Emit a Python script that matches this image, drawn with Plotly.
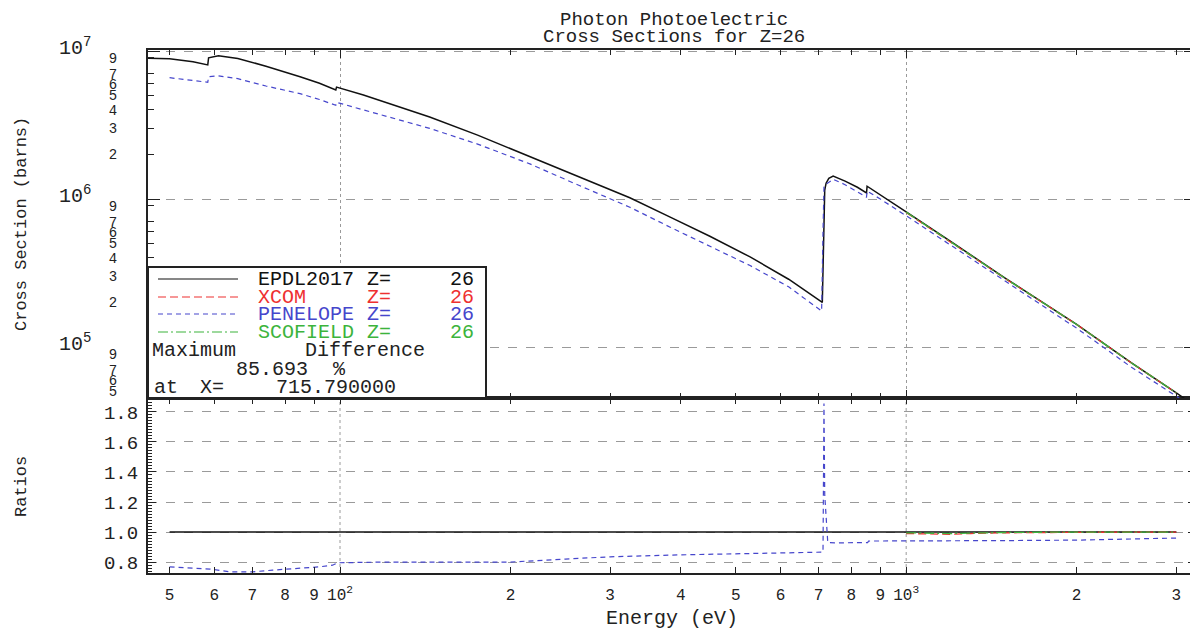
import math
import plotly.graph_objects as go

# ---------------- data ----------------
epdl_e = [45, 50, 55, 58.4, 58.6, 61, 66, 74, 85, 92, 98.3, 98.6, 110, 125, 144, 175, 217,
          260, 325, 383, 450, 530, 620, 711, 713, 715.79, 718, 722, 730, 743, 780, 820, 851,
          853, 900, 975, 1000, 1200, 1500, 2000, 2500, 3000, 3300]
epdl_cs = [8.95e6, 8.85e6, 8.45e6, 8.05e6, 9.0e6, 9.3e6, 8.9e6, 7.9e6, 6.7e6, 6.05e6, 5.45e6,
           5.7e6, 5.05e6, 4.3e6, 3.58e6, 2.7e6, 1.92e6, 1.45e6, 1.02e6, 7.55e5, 5.6e5, 4.06e5,
           2.87e5, 2.0e5, 3.2e5, 6.5e5, 1.15e6, 1.28e6, 1.38e6, 1.43e6, 1.32e6, 1.2e6, 1.1e6,
           1.22e6, 1.07e6, 8.7e5, 8.2e5, 5.15e5, 2.9e5, 1.42e5, 7.8e4, 4.9e4, 3.8e4]

pen_e = [50, 55, 58.4, 58.6, 61, 66, 74, 85, 92, 98.3, 98.6, 110, 125, 144, 175, 217, 260,
         325, 383, 450, 530, 620, 709, 713, 715.79, 720, 730, 743, 780, 820, 851, 853, 900,
         1000, 1500, 2000, 2500, 3000, 3300]
pen_cs = [6.6e6, 6.35e6, 6.15e6, 6.7e6, 6.8e6, 6.5e6, 5.8e6, 5.15e6, 4.7e6, 4.3e6, 4.5e6,
          4.0e6, 3.5e6, 3.0e6, 2.35e6, 1.72e6, 1.27e6, 8.8e5, 6.45e5, 4.8e5, 3.55e5, 2.55e5,
          1.75e5, 6.0e5, 1.2e6, 1.25e6, 1.3e6, 1.36e6, 1.25e6, 1.12e6, 1.03e6, 1.13e6, 1.0e6,
          7.7e5, 2.75e5, 1.34e5, 7.3e4, 4.65e4, 3.6e4]

xcom_e = [1000, 1200, 1500, 2000, 2500, 3000]
xcom_cs = [8.1e5, 5.1e5, 2.88e5, 1.42e5, 7.8e4, 4.9e4]

scof_e = [1000, 1200, 1500, 2000, 2500, 3000]
scof_cs = [8.15e5, 5.1e5, 2.89e5, 1.42e5, 7.8e4, 4.9e4]

# ratios to EPDL2017
epdl_ratio_e = [50, 3000]
epdl_ratio = [1.0, 1.0]

pen_ratio_e = [50, 55, 59, 64, 70, 76, 85, 92, 97, 99, 120, 150, 200, 250, 300, 400, 500,
               600, 700, 713, 715.79, 718, 721, 724, 727, 760, 800, 855, 858, 1000, 1500,
               2000, 2500, 3000]
pen_ratio = [0.768, 0.76, 0.753, 0.735, 0.735, 0.746, 0.757, 0.768, 0.779, 0.795, 0.80,
             0.80, 0.80, 0.82, 0.835, 0.848, 0.855, 0.86, 0.862, 0.866, 1.857, 1.25, 1.14,
             0.99, 0.929, 0.928, 0.929, 0.93, 0.94, 0.94, 0.943, 0.946, 0.952, 0.96]

xcom_ratio_e = [1000, 1100, 1200, 1300, 1500, 2000, 2500, 3000]
xcom_ratio = [0.99, 0.985, 0.985, 0.99, 0.995, 0.998, 1.0, 1.0]
scof_ratio_e = [1000, 1100, 1200, 1300, 1500, 2000, 2500, 3000]
scof_ratio = [0.995, 0.99, 0.99, 0.993, 0.997, 1.0, 1.0, 1.0]

# ticks
x_tick_vals = [50, 60, 70, 80, 90, 100, 200, 300, 400, 500, 600, 700, 800, 900, 1000, 2000, 3000]
x_tick_text = ["5", "6", "7", "8", "9", "10<sup>2</sup>", "2", "3", "4", "5", "6", "7", "8", "9",
               "10<sup>3</sup>", "2", "3"]
x_decades = [100, 1000]
x_minor = [50, 60, 70, 80, 90, 200, 300, 400, 500, 600, 700, 800, 900, 2000, 3000]

y2_tick_vals = [5e4, 6e4, 7e4, 9e4, 2e5, 3e5, 4e5, 5e5, 6e5, 7e5, 9e5,
                2e6, 3e6, 4e6, 5e6, 6e6, 7e6, 9e6]
y2_tick_text = ["5", "6", "7", "9", "2", "3", "4", "5", "6", "7", "9",
                "2", "3", "4", "5", "6", "7", "9"]
y2_decades = [1e5, 1e6, 1e7]
y2_decade_text = ["10<sup>5</sup>", "10<sup>6</sup>", "10<sup>7</sup>"]

y_tick_vals = [0.8, 1.0, 1.2, 1.4, 1.6, 1.8]
y_tick_text = ["0.8", "1.0", "1.2", "1.4", "1.6", "1.8"]

legend_names = ["EPDL2017", "XCOM", "PENELOPE", "SCOFIELD"]
legend_z = "26"

# ---------------- styling / layout helpers ----------------
FONT = "Liberation Mono, Courier New, monospace"
OFF = 8                      # page body margin of the html page
W, H = 1198 - OFF, 632 - OFF
PLOT_L, PLOT_R, PLOT_T, PLOT_B = 148, 1196, 50, 573   # plot area in page pixels
L, T = PLOT_L - OFF, PLOT_T - OFF
R = W - (PLOT_R - OFF)
B = H - (PLOT_B - OFF)
PW = PLOT_R - PLOT_L
PH = PLOT_B - PLOT_T


def pxx(x):
    return (x - PLOT_L) / PW


def pyy(y):
    return (PLOT_B - y) / PH


SPLIT = pyy(398)

C_BLACK = "#111111"
C_RED = "#ee3030"
C_BLUE = "#4646cc"
C_GREEN = "#3cb43c"
styles = [
    dict(color=C_BLACK, width=1.5),
    dict(color=C_RED, width=1.3, dash="8px,4px"),
    dict(color=C_BLUE, width=1.2, dash="5px,4px"),
    dict(color=C_GREEN, width=1.3, dash="10px,3px,2px,3px"),
]

fig = go.Figure()
# top panel
for xs, ys, st in [(epdl_e, epdl_cs, styles[0]), (xcom_e, xcom_cs, styles[1]),
                   (pen_e, pen_cs, styles[2]), (scof_e, scof_cs, styles[3])]:
    fig.add_trace(go.Scatter(x=xs, y=ys, mode="lines", line=st, xaxis="x2", yaxis="y2",
                             hoverinfo="skip"))
# ratio panel
for xs, ys, st in [(epdl_ratio_e, epdl_ratio, styles[0]), (xcom_ratio_e, xcom_ratio, styles[1]),
                   (pen_ratio_e, pen_ratio, styles[2]), (scof_ratio_e, scof_ratio, styles[3])]:
    fig.add_trace(go.Scatter(x=xs, y=ys, mode="lines", line=st, xaxis="x", yaxis="y",
                             hoverinfo="skip"))

xrange = [math.log10(45.8), math.log10(3250)]
AX = "#222222"
GRID = "#9a9a9a"

fig.update_layout(
    width=W, height=H,
    margin=dict(l=L, r=R, t=T, b=B, autoexpand=False),
    paper_bgcolor="white", plot_bgcolor="white", showlegend=False,
    font=dict(family=FONT, color=AX),
    xaxis=dict(type="log", range=xrange, domain=[0, 1], anchor="y",
               tickmode="array", tickvals=x_tick_vals, ticktext=x_tick_text,
               ticks="inside", ticklen=6, tickwidth=1, tickcolor=AX,
               showline=True, linewidth=2, linecolor=AX, mirror="ticks",
               showgrid=False, zeroline=False,
               tickfont=dict(family=FONT, size=16, color=AX), ticklabelstandoff=6),
    xaxis2=dict(type="log", range=xrange, domain=[0, 1], anchor="y2", matches="x",
                tickmode="array", tickvals=x_decades, showticklabels=False,
                ticks="inside", ticklen=8, tickwidth=1, tickcolor=AX,
                showline=True, linewidth=2, linecolor=AX, mirror="ticks",
                showgrid=True, gridcolor=GRID, griddash="dot", gridwidth=1, zeroline=False,
                minor=dict(tickmode="array", tickvals=x_minor, ticks="inside", ticklen=5,
                           tickcolor=AX, showgrid=False)),
    yaxis=dict(domain=[0, SPLIT], anchor="x", range=[0.727, 1.893],
               tickmode="array", tickvals=y_tick_vals, ticktext=y_tick_text,
               ticks="inside", ticklen=8, tickwidth=1, tickcolor=AX,
               showline=True, linewidth=2, linecolor=AX, mirror="ticks",
               showgrid=True, gridcolor=GRID, griddash="dash", gridwidth=1, zeroline=False,
               tickfont=dict(family=FONT, size=19, color=AX), ticklabelstandoff=4,
               minor=dict(tick0=0.8, dtick=0.02, ticks="inside", ticklen=4,
                          tickcolor=AX, showgrid=False)),
    yaxis2=dict(type="log", domain=[SPLIT, 1], anchor="x2",
                range=[4.6554, 7.0068],
                tickmode="array", tickvals=y2_tick_vals, ticktext=y2_tick_text,
                ticks="inside", ticklen=6, tickwidth=1, tickcolor=AX,
                showline=True, linewidth=2, linecolor=AX, mirror="ticks",
                showgrid=False, zeroline=False,
                tickfont=dict(family=FONT, size=14, color=AX), ticklabelstandoff=26,
                minor=dict(tickmode="array", tickvals=y2_decades, ticks="inside", ticklen=12,
                           tickcolor=AX, showgrid=True, gridcolor=GRID, griddash="dash",
                           gridwidth=1)),
)

shapes = []
# vertical decade grid lines in the ratio panel
for xv in x_decades:
    shapes.append(dict(type="line", xref="x", yref="y domain", x0=xv, x1=xv, y0=0, y1=1,
                       line=dict(color=GRID, width=1, dash="dot"), layer="below"))
# legend box
shapes.append(dict(type="rect", xref="paper", yref="paper", x0=0, x1=pxx(486),
                   y0=SPLIT, y1=pyy(267), fillcolor="white",
                   line=dict(color=AX, width=2), layer="above"))
row_y = [279, 297, 314, 332]
for i, ry in enumerate(row_y):
    st = dict(styles[i])
    st["width"] = 1.2
    shapes.append(dict(type="line", xref="paper", yref="paper", x0=pxx(158), x1=pxx(238),
                       y0=pyy(ry), y1=pyy(ry), line=st, layer="above"))
fig.update_layout(shapes=shapes)

ann = []


def text(x, y, s, size=20, color=AX, xanchor="left", **kw):
    ann.append(dict(xref="paper", yref="paper", x=pxx(x), y=pyy(y), text=s, showarrow=False,
                    xanchor=xanchor, yanchor="middle",
                    font=dict(family=FONT, size=size, color=color), **kw))


# titles
text(674, 20, "Photon Photoelectric", size=19, xanchor="center")
text(674, 37, "Cross Sections for Z=26", size=19, xanchor="center")
text(672, 618, "Energy (eV)", size=20, xanchor="center")
text(21, 224, "Cross Section (barns)", size=17, xanchor="center", textangle=-90)
text(21, 487, "Ratios", size=17, xanchor="center", textangle=-90)

# decade labels on the cross-section axis
for v, s in zip(y2_decades, y2_decade_text):
    ann.append(dict(xref="paper", yref="y2", x=pxx(93), y=math.log10(v), text=s,
                    showarrow=False, xanchor="right", yanchor="middle", yshift=4,
                    font=dict(family=FONT, size=20, color=AX)))

# legend texts
colors = [C_BLACK, C_RED, C_BLUE, C_GREEN]
for name, ry, c in zip(legend_names, row_y, colors):
    text(256, ry, name, color=c)
    text(365, ry, "Z=", color=c)
    text(448, ry, legend_z, color=c)
text(194, 350, "Maximum", xanchor="center")
text(365, 350, "Difference", xanchor="center")
text(272, 369, "85.693", xanchor="center")
text(339, 369, "%", xanchor="center")
text(166, 387, "at", xanchor="center")
text(212, 387, "X=", xanchor="center")
text(336, 387, "715.790000", xanchor="center")

fig.update_layout(annotations=ann)

fig.write_html("out.html")
